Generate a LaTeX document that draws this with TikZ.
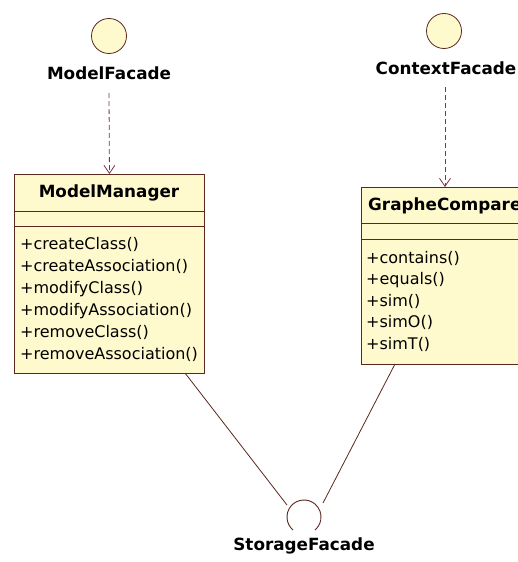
\documentclass[tikz,border=0pt]{standalone}
\usepackage{fontspec}
\setmainfont{DejaVu Sans}
\usetikzlibrary{arrows.meta,calc}
\definecolor{fillY}{RGB}{255,250,205}
\definecolor{bord}{RGB}{90,40,30}
\definecolor{dep}{RGB}{130,50,70}
\tikzset{
  iface/.style={circle,draw=bord,fill=fillY,minimum size=35pt,inner sep=0pt,line width=0.8pt},
  lbl/.style={font=\fontsize{16.8}{18}\selectfont\bfseries,inner sep=0pt},
  classbox/.style={draw=bord,fill=fillY,line width=0.9pt,inner sep=0pt,anchor=north west},
  ttl/.style={font=\fontsize{16.8}{18}\selectfont\bfseries,inner sep=0pt},
  ops/.style={font=\fontsize{16}{22}\selectfont,align=left,inner sep=0pt,anchor=north west},
  depend/.style={draw=dep,dashed,dash pattern=on 5pt off 3pt,line width=0.8pt,-{Straight Barb[length=8pt,width=11pt]}},
  assoc/.style={draw=bord,line width=0.8pt}
}
\begin{document}
\begin{tikzpicture}[x=1pt,y=-1pt]
\clip (0,0) rectangle (518,562);
\fill[white] (0,0) rectangle (518,562);
% ModelFacade
\node[iface] (mf) at (109,36) {};
\node[lbl] (mfl) at (109,73) {ModelFacade};
% ContextFacade
\node[iface] (cf) at (444,31) {};
\node[lbl] (cfl) at (446,68) {ContextFacade};
% ModelManager
\node[classbox,minimum width=190pt,minimum height=199pt] (mm) at (14,174) {};
\draw[bord,line width=0.9pt] ($(mm.north west)+(0,37)$) -- ($(mm.north east)+(0,37)$);
\draw[bord,line width=0.9pt] ($(mm.north west)+(0,52)$) -- ($(mm.north east)+(0,52)$);
\node[ttl] (mmt) at (109,193) {ModelManager};
\node[ops] (mmo) at (20,237) {+createClass()\\+createAssociation()\\+modifyClass()\\+modifyAssociation()\\+removeClass()\\+removeAssociation()};
% GrapheCompare
\node[classbox,minimum width=165pt,minimum height=177pt] (gc) at (361,187) {};
\draw[bord,line width=0.9pt] ($(gc.north west)+(0,36)$) -- ($(gc.north east)+(0,36)$);
\draw[bord,line width=0.9pt] ($(gc.north west)+(0,52)$) -- ($(gc.north east)+(0,52)$);
\node[ttl,anchor=west] (gct) at (368,206) {GrapheCompare};
\node[ops,font=\fontsize{16}{21.5}\selectfont] (gco) at (366,251) {+contains()\\+equals()\\+sim()\\+simO()\\+simT()};
% dependencies
\coordinate (mfa) at (109,93);
\coordinate (cfa) at (445,87);
\draw[depend] (mfa) -- (mm.north);
\draw[depend] (cfa) -- (445,187);
% StorageFacade socket
\coordinate (sf) at (304,517);
\draw[bord,line width=0.9pt] ($(sf)+(130:17)$) arc[start angle=130,end angle=410,radius=17];
\node[lbl] (sfl) at (304,546) {StorageFacade};
\coordinate (mmb) at (185,373);
\coordinate (gcb) at (395,364);
\coordinate (sfl1) at (287,505);
\coordinate (sfr1) at (323,503);
\draw[assoc] (mmb) -- (sfl1);
\draw[assoc] (gcb) -- (sfr1);
\end{tikzpicture}
\end{document}
